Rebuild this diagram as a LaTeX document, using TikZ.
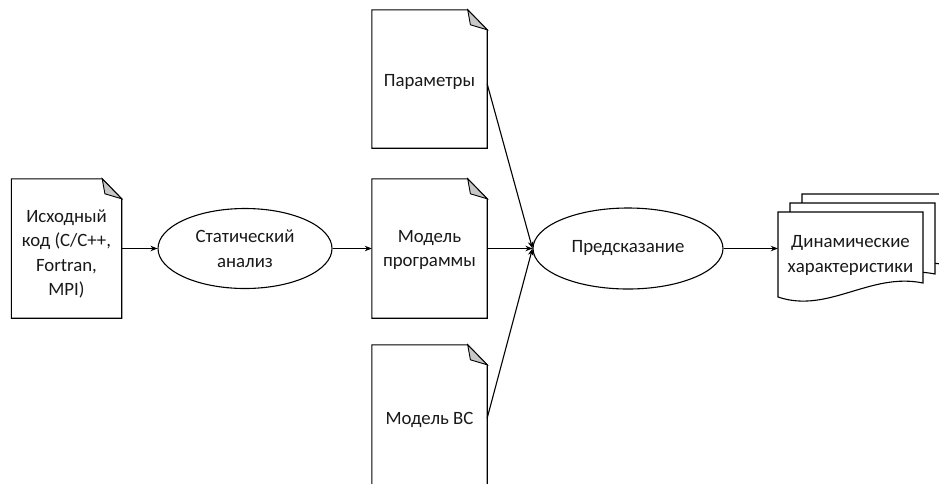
\documentclass[tikz,border=0pt]{standalone}
\usepackage{fontspec}
\setmainfont{Carlito}
\usetikzlibrary{arrows.meta,shapes.geometric,calc}
\tikzset{
  docline/.style={draw=black,line width=1.1pt,line join=miter},
  foldfill/.style={draw=black,line width=0.9pt,fill=black!22},
  docbox/.style={rectangle,draw=none,inner sep=0pt},
  doctext/.style={inner sep=0pt,align=center,text=black!90,font=\fontsize{18.8}{24.5}\selectfont},
  procbox/.style={ellipse,draw=black,line width=1.1pt,inner sep=0pt,align=center,text=black!90,font=\fontsize{18.8}{24.5}\selectfont},
  arr/.style={draw=black,line width=1.1pt,-{Stealth[length=7pt,width=5.5pt]}},
}
\newcommand\foldeddoc[1]{%
  \draw[docline,fill=white] (#1.north west) -- ([xshift=-19.5pt]#1.north east) -- ([yshift=-20pt]#1.north east) -- (#1.south east) -- (#1.south west) -- cycle;
  \filldraw[foldfill] ([xshift=-19.5pt]#1.north east) -- ([xshift=-16.8pt,yshift=-15pt]#1.north east) -- ([yshift=-20pt]#1.north east) -- cycle;}
\newcommand\wavedoc[2]{%
  \begin{scope}[shift={(#1,#2)}]
  \filldraw[docline,fill=white] (0,0) -- (145,0) -- (145,71) .. controls (92,60) and (50,102) .. (0,85) -- cycle;
  \end{scope}}
\begin{document}
\begin{tikzpicture}[x=1pt,y=-1pt]
\clip (0,0) rectangle (939,483);
\fill[white] (0,0) rectangle (939,483);
% documents
\node[docbox,minimum width=110pt,minimum height=139pt] (src) at (66.5,248.5) {};
\foldeddoc{src}
\node[docbox,minimum width=115pt,minimum height=138pt] (par) at (429.5,79) {};
\foldeddoc{par}
\node[docbox,minimum width=115pt,minimum height=139pt] (mod) at (429.5,248.5) {};
\foldeddoc{mod}
\node[docbox,minimum width=115pt,minimum height=146pt] (hw) at (429.5,418) {};
\foldeddoc{hw}
\node[doctext] (srct) at (66.5,254) {Исходный\\код (C/C++,\\Fortran,\\MPI)};
\node[doctext] (part) at (429.5,82) {Параметры};
\node[doctext] (modt) at (429.5,250) {Модель\\программы};
\node[doctext] (hwt) at (429.5,420) {Модель ВС};
% processes
\node[procbox,minimum width=174pt,minimum height=80pt] (stat) at (245,248.5) {Статический\\анализ};
\node[procbox,minimum width=190pt,minimum height=81pt] (pred) at (628,248.5) {Предсказание};
% output multi-document
\wavedoc{802}{194}
\wavedoc{790}{203}
\wavedoc{778}{212}
\node[docbox,minimum width=145pt,minimum height=85pt] (out) at (850.5,254.5) {};
\node[doctext] (outt) at (850.5,255.5) {Динамические\\характеристики};
% connectors
\draw[arr] (src.east) -- (stat.west);
\draw[arr] (stat.east) -- (mod.west);
\draw[arr] ([yshift=-5pt]par.east) -- (pred.west);
\draw[arr] (mod.east) -- (pred.west);
\draw[arr] (hw.east) -- (pred.west);
\draw[arr] (pred.east) -- (pred.east -| out.west);
\end{tikzpicture}
\end{document}
